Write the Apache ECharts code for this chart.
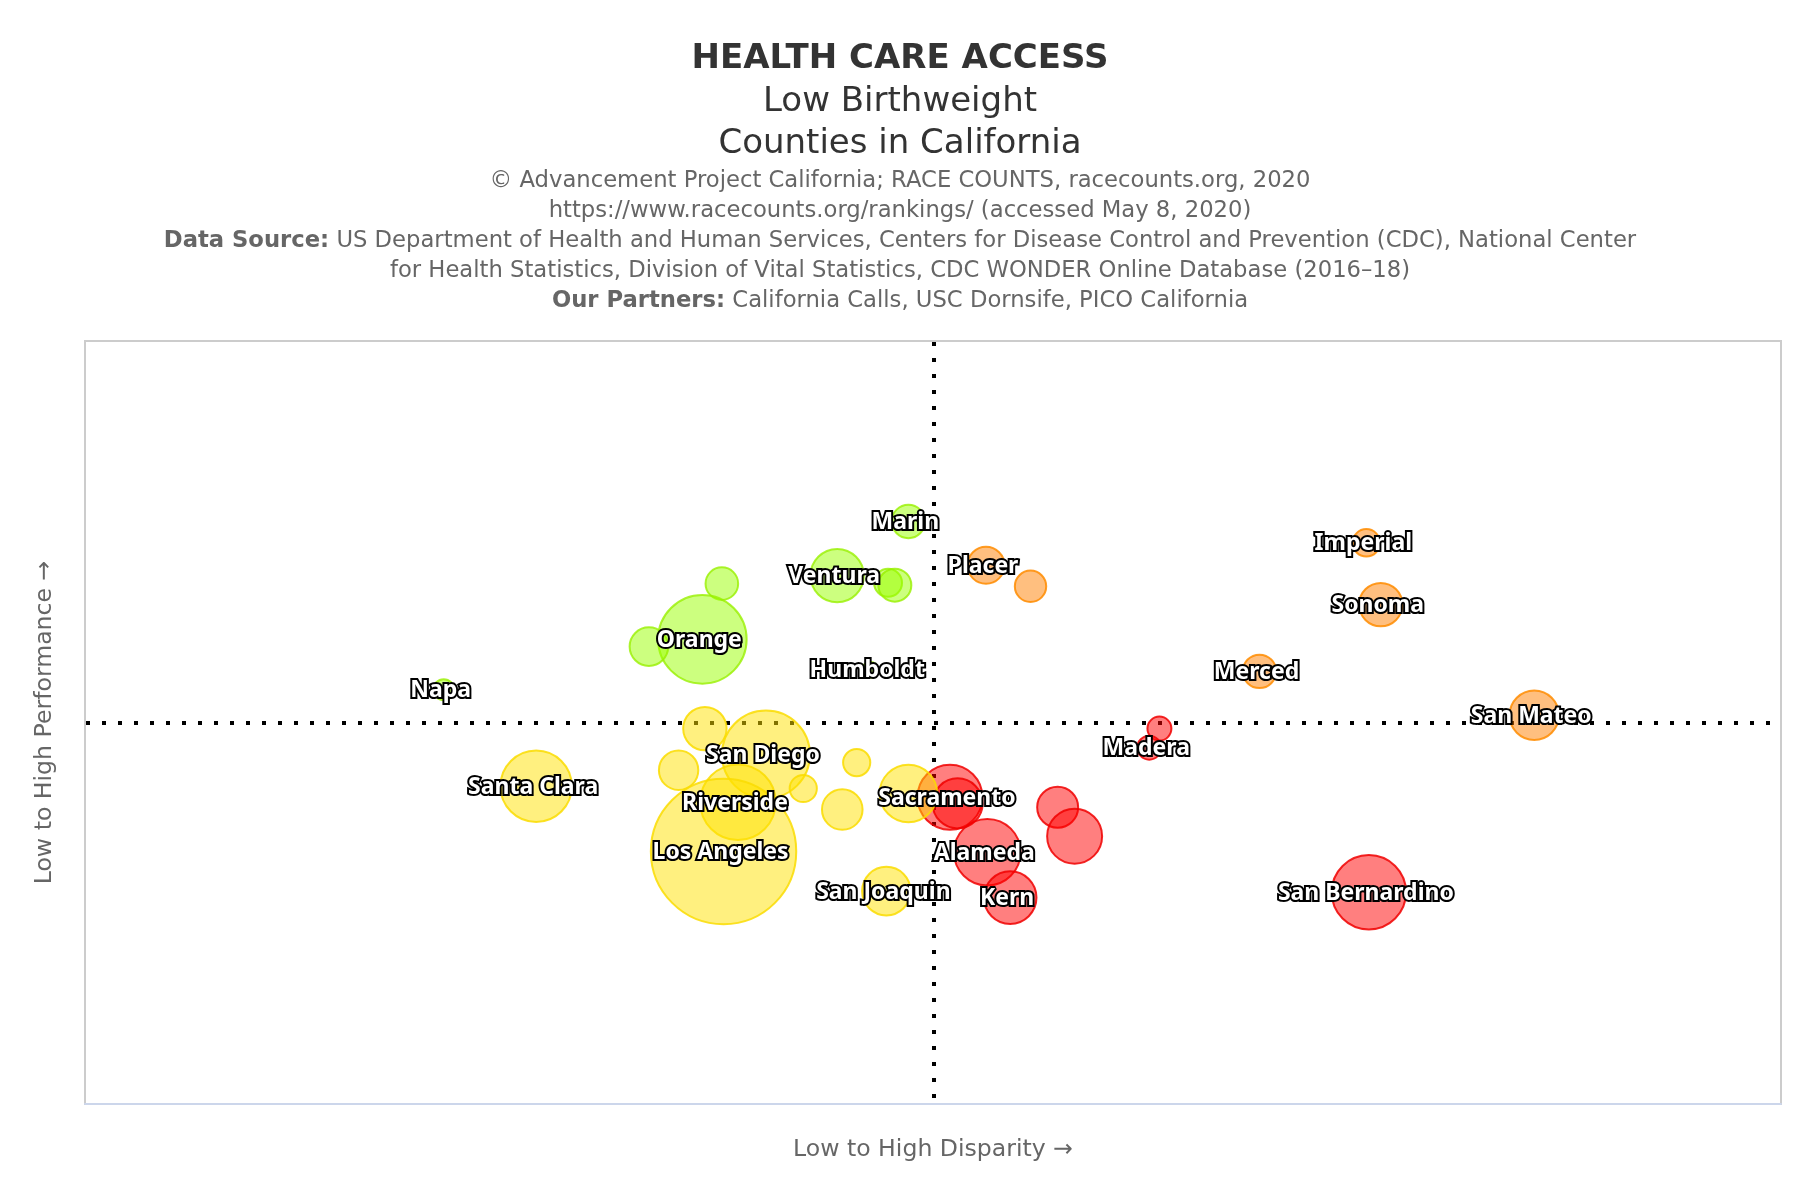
<!DOCTYPE html>
<html>
<head>
<meta charset="utf-8">
<title>Health Care Access</title>
<script src="https://cdn.jsdelivr.net/npm/echarts@6/dist/echarts.min.js"></script>
<style>
    html, body { margin: 0; padding: 0; background: #fff; }
    #main { width: 1800px; height: 1200px; }
</style>
</head>
<body>
<div id="main"></div>
<script>
// x = disparity, y = performance, z = county population (thousands)
var greenNames = ['Marin', 'Ventura', '', '', '', 'Orange', '', 'Napa', 'Humboldt'];
var greenX = [-2.9, -11.3, -5.3, -4.5, -24.9, -27.2, -33.5, -57.7, -7.4];
var greenY = [52.7, 38.5, 36.6, 36.0, 36.4, 21.8, 19.9, 8.6, 13.8];
var greenZ = [528, 1349, 371, 515, 503, 3713, 705, 209, 121];

var orangeNames = ['Placer', '', 'Imperial', 'Sonoma', 'Merced', 'San Mateo'];
var orangeX = [6.25, 11.5, 51.1, 52.8, 38.5, 70.9];
var orangeY = [41.2, 35.7, 47.1, 30.9, 13.4, 1.9];
var orangeZ = [648, 466, 355, 891, 528, 1154];

var redNames = ['', 'Madera', 'Sacramento', '', 'Alameda', 'Kern', '', '', 'San Bernardino'];
var redX = [26.7, 25.5, 2, 2.9, 6.4, 9.1, 14.7, 16.7, 51.4];
var redY = [-1.6, -6.6, -19.6, -21.2, -34, -45.9, -22.2, -29.8, -44.5];
var redZ = [272, 272, 1998, 1183, 2098, 1309, 795, 1431, 2618];

var yellowNames = ['', 'San Diego', '', '', '', 'Riverside', '', 'Santa Clara', 'Los Angeles', '', 'San Joaquin'];
var yellowX = [-26.9, -19.7, -30, -9, -15.3, -23, -10.7, -46.8, -24.7, -2.9, -5.5];
var yellowY = [-1.6, -8.4, -12.5, -10.5, -17.3, -20.9, -22.8, -16.7, -33.8, -18.6, -44.2];
var yellowZ = [891, 3663, 734, 350, 350, 2703, 780, 2411, 10000, 1569, 1117];

var titleLines = ['HEALTH CARE ACCESS', 'Low Birthweight', 'Counties in California'];
var creditLines = [
    '© Advancement Project California; RACE COUNTS, racecounts.org, 2020',
    'https://www.racecounts.org/rankings/ (accessed May 8, 2020)',
    '{b|Data Source:} US Department of Health and Human Services, Centers for Disease Control and Prevention (CDC), National Center',
    'for Health Statistics, Division of Vital Statistics, CDC WONDER Online Database (2016–18)',
    '{b|Our Partners:} California Calls, USC Dornsife, PICO California'
];

var fontName = '"DejaVu Sans"';

function bubbleSeries(names, xs, ys, zs, fill, stroke) {
    var data = [];
    for (var i = 0; i < xs.length; i++) {
        data.push({ name: names[i], value: [xs[i], ys[i], zs[i]] });
    }
    return {
        type: 'scatter',
        z: 3,
        data: data,
        symbolSize: function (v) {
            return 1.454 * Math.sqrt(v[2]);
        },
        itemStyle: { color: fill, borderColor: stroke, borderWidth: 2, opacity: 1 },
        label: {
            show: true,
            position: 'inside',
            offset: [-3, 1],
            formatter: '{b}',
            fontFamily: '"Noto Sans"',
            fontSize: 23,
            fontWeight: 'bold',
            color: '#fff',
            textBorderColor: '#000',
            textBorderWidth: 4
        }
    };
}

// titles, one entry per line
var titles = [];
var titleTops = [42, 85, 127];
for (var i = 0; i < titleLines.length; i++) {
    titles.push({
        text: titleLines[i],
        left: 'center',
        top: titleTops[i],
        padding: 0,
        textStyle: { fontFamily: fontName, fontSize: 34, color: '#333', fontWeight: i == 0 ? 'bold' : 'normal' }
    });
}
for (var j = 0; j < creditLines.length; j++) {
    titles.push({
        text: creditLines[j],
        left: 'center',
        top: 170 + j * 30,
        padding: 0,
        textStyle: {
            fontFamily: fontName,
            fontSize: 22.7,
            color: '#666',
            fontWeight: 'normal',
            rich: {
                b: { fontFamily: fontName, fontSize: 22.7, color: '#666', fontWeight: 'bold' }
            }
        }
    });
}

var myChart = echarts.init(document.getElementById('main'), null, { renderer: 'canvas' });
myChart.setOption({
    animation: false,
    backgroundColor: '#fff',
    title: titles,
    grid: {
        left: 85,
        top: 341,
        width: 1696,
        height: 763,
        show: true,
        backgroundColor: '#fff',
        borderColor: '#ccc',
        borderWidth: 2
    },
    xAxis: {
        type: 'value',
        min: -100,
        max: 100,
        name: 'Low to High Disparity →',
        nameLocation: 'middle',
        nameGap: 34,
        nameTextStyle: { fontFamily: fontName, fontSize: 23.6, color: '#666' },
        axisLine: { show: true, onZero: false, lineStyle: { color: '#ccd6eb', width: 2 } },
        axisTick: { show: false },
        axisLabel: { show: false },
        splitLine: { show: false }
    },
    yAxis: {
        type: 'value',
        min: -100,
        max: 100,
        name: 'Low to High Performance →',
        nameLocation: 'middle',
        nameGap: 28,
        nameTextStyle: { fontFamily: fontName, fontSize: 23.6, color: '#666' },
        axisLine: { show: false },
        axisTick: { show: false },
        axisLabel: { show: false },
        splitLine: { show: false }
    },
    series: [
        {
            type: 'scatter',
            z: 1,
            data: [],
            silent: true,
            markLine: {
                z: 1,
                silent: true,
                animation: false,
                symbol: 'none',
                label: { show: false },
                lineStyle: { color: '#000', width: 4, type: [4, 12], opacity: 1 },
                data: [
                    { xAxis: 0.1, lineStyle: { color: '#000', width: 4, type: [4, 12], dashOffset: 10 } },
                    { yAxis: 0, lineStyle: { color: '#000', width: 4, type: [4, 12], dashOffset: 15 } }
                ]
            }
        },
        bubbleSeries(greenNames, greenX, greenY, greenZ, 'rgba(153,255,0,0.5)', 'rgba(153,240,0,0.8)'),
        bubbleSeries(orangeNames, orangeX, orangeY, orangeZ, 'rgba(255,128,0,0.5)', 'rgba(255,140,0,0.85)'),
        bubbleSeries(redNames, redX, redY, redZ, 'rgba(255,0,0,0.5)', 'rgba(240,0,0,0.85)'),
        bubbleSeries(yellowNames, yellowX, yellowY, yellowZ, 'rgba(255,225,0,0.5)', 'rgba(250,220,0,0.85)')
    ]
});
</script>
</body>
</html>
